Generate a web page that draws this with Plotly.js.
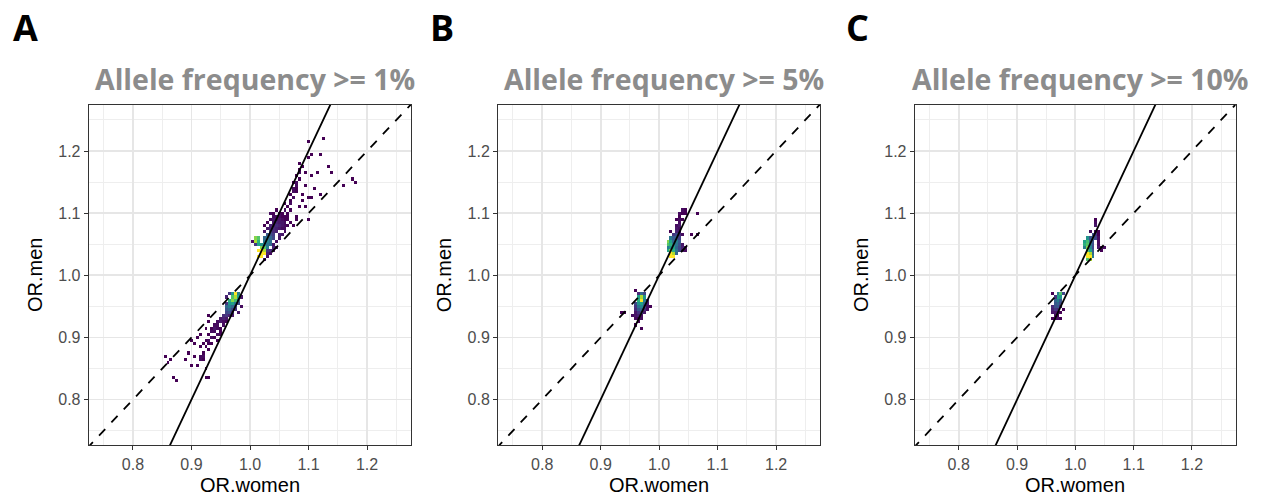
<!DOCTYPE html>
<html>
<head>
<meta charset="utf-8">
<script src="https://cdn.plot.ly/plotly-3.0.1.min.js"></script>
<style>
html,body{margin:0;padding:0;background:#fff;}
#chart{width:1261px;height:497px;}
</style>
</head>
<body>
<div id="chart"></div>
<script>
// ---------------- data ----------------
const panelLetters = ['A', 'B', 'C'];
const panelTitles = ['Allele frequency >= 1%', 'Allele frequency >= 5%', 'Allele frequency >= 10%'];
const xAxisTitle = 'OR.women';
const yAxisTitle = 'OR.men';
const tickValues = [0.8, 0.9, 1.0, 1.1, 1.2];
const tickLabels = ['0.8', '0.9', '1.0', '1.1', '1.2'];
const minorTickValues = [0.75, 0.85, 0.95, 1.05, 1.15, 1.25];
const binWidth = 0.005;

// reference lines: y = slope * x + intercept
const refSlopes = [1, 2];
const refIntercepts = [0, -1];

// Panel A (allele frequency >= 1%) : bin centres and counts
const aWomen = [
  1.015,1.020,1.020,1.025,1.015,1.020,1.025,1.020,1.025,1.010,
  1.010,1.015,1.015,1.015,1.020,1.030,1.030,1.035,1.030,1.035,
  1.035,1.030,1.025,1.025,1.025,1.030,1.035,1.040,1.040,1.035,
  1.040,1.045,1.040,1.045,1.035,1.030,1.025,1.035,1.040,1.045,
  1.050,1.055,1.040,1.045,1.050,1.055,1.035,1.040,1.045,1.050,
  1.040,1.045,1.050,1.035,1.040,1.050,1.055,1.045,1.050,1.055,
  1.050,1.045,1.040,1.045,1.040,1.035,1.040,1.030,1.035,1.030,
  1.060,1.060,1.065,1.060,1.065,1.070,1.075,1.080,1.025,1.030,
  1.010,1.005,1.030,1.025,1.060,1.065,1.060,1.070,1.070,1.075,
  1.070,1.075,1.080,1.075,1.080,1.080,1.075,1.080,1.085,1.080,
  1.085,1.085,1.090,1.085,1.100,1.105,1.095,1.125,1.120,1.100,
  1.135,1.140,1.115,1.105,1.160,1.180,1.175,1.105,1.100,1.120,
  1.100,1.085,1.080,1.090,1.095,1.110,1.070,1.065,1.090,1.095,
  1.060,1.060,1.065,1.055,1.055,1.060,1.050,1.055,
  0.975,0.975,0.970,0.980,0.970,0.980,0.965,0.970,0.975,0.980,
  0.965,0.970,0.975,0.980,0.960,0.965,0.970,0.975,0.960,0.965,
  0.970,0.975,0.960,0.965,0.970,0.980,0.955,0.960,0.965,0.970,
  0.985,0.985,0.960,0.965,0.960,
  0.950,0.955,0.960,0.945,0.950,0.955,0.960,0.940,0.945,0.955,
  0.935,0.940,0.945,0.950,0.935,0.940,0.950,0.930,0.945,0.950,
  0.935,0.940,0.925,0.930,0.945,0.920,0.930,0.935,0.915,0.925,
  0.930,0.920,0.915,0.920,0.915,0.920,0.905,0.900,0.910,0.915,
  0.925,0.930,0.930,0.890,0.900,0.910,0.925,0.925,0.930,0.870,
  0.875,0.855,0.865,0.860,0.905,0.895
];
const aMen = [
  1.030,1.030,1.035,1.035,1.040,1.040,1.040,1.045,1.045,1.055,
  1.060,1.060,1.055,1.050,1.050,1.045,1.050,1.050,1.055,1.055,
  1.060,1.060,1.050,1.055,1.060,1.065,1.065,1.060,1.065,1.070,
  1.070,1.070,1.075,1.075,1.075,1.075,1.070,1.080,1.080,1.080,
  1.080,1.080,1.085,1.085,1.085,1.085,1.090,1.090,1.090,1.090,
  1.095,1.095,1.095,1.100,1.100,1.100,1.100,1.105,1.065,1.065,
  1.060,1.055,1.050,1.045,1.045,1.040,1.040,1.040,1.035,1.035,
  1.075,1.070,1.080,1.085,1.090,1.085,1.080,1.095,1.025,1.030,
  1.050,1.055,1.085,1.080,1.105,1.110,1.115,1.115,1.120,1.125,
  1.130,1.135,1.135,1.140,1.140,1.145,1.150,1.150,1.155,1.160,
  1.165,1.170,1.175,1.180,1.215,1.195,1.165,1.220,1.195,1.190,
  1.175,1.165,1.165,1.160,1.145,1.150,1.155,1.125,1.125,1.130,
  1.090,1.110,1.090,1.120,1.110,1.140,1.105,1.100,1.130,1.145,
  1.080,1.090,1.095,1.090,1.095,1.095,1.075,1.075,
  0.970,0.965,0.965,0.965,0.970,0.970,0.960,0.960,0.960,0.960,
  0.955,0.955,0.955,0.955,0.950,0.950,0.950,0.950,0.945,0.945,
  0.945,0.945,0.940,0.940,0.940,0.940,0.935,0.935,0.935,0.935,
  0.965,0.950,0.965,0.970,0.955,
  0.930,0.930,0.930,0.925,0.925,0.925,0.925,0.920,0.920,0.920,
  0.915,0.915,0.915,0.915,0.910,0.910,0.910,0.905,0.905,0.905,
  0.900,0.900,0.895,0.895,0.895,0.890,0.890,0.890,0.885,0.885,
  0.880,0.875,0.870,0.870,0.865,0.865,0.890,0.895,0.900,0.905,
  0.915,0.925,0.935,0.865,0.855,0.855,0.850,0.835,0.835,0.835,
  0.830,0.870,0.865,0.860,0.870,0.875
];
const aCount = [
  40,45,42,38,35,40,30,28,25,30,
  28,25,22,20,18,15,14,12,16,13,
  12,14,16,14,12,10,9,8,7,8,
  5,4,5,4,4,3,3,4,3,5,
  4,3,3,4,3,3,2,3,2,3,
  2,2,2,2,1,2,1,1,4,3,
  3,2,3,2,4,5,3,6,2,4,
  2,2,1,2,1,1,1,1,3,2,
  6,2,1,1,2,1,1,2,1,2,
  1,2,1,2,1,2,1,2,1,1,
  2,1,1,1,1,1,1,1,1,1,
  1,1,1,1,1,1,1,1,1,1,
  1,1,1,1,1,1,1,1,1,1,
  2,1,1,2,1,1,3,2,
  45,30,25,20,18,15,22,28,24,12,
  18,20,14,8,12,15,12,8,10,12,
  8,5,8,9,5,3,5,6,4,3,
  3,2,4,6,6,
  3,4,3,2,3,2,1,2,2,2,
  1,3,2,1,2,2,1,1,2,1,
  2,1,1,2,1,1,1,1,1,1,
  1,1,2,2,2,1,1,1,1,1,
  1,1,1,1,1,1,1,1,1,1,
  1,1,1,1,1,1
];

// Panel B (allele frequency >= 5%)
const bWomen = [
  1.020,1.025,1.020,1.025,1.030,1.015,1.020,1.025,1.030,1.035,
  1.040,1.045,1.015,1.020,1.025,1.030,1.035,1.040,1.045,1.015,
  1.020,1.025,1.030,1.035,1.040,1.015,1.020,1.025,1.030,1.035,
  1.020,1.025,1.030,1.035,1.025,1.030,1.035,1.040,1.055,1.065,
  1.030,1.035,1.020,1.030,1.035,1.030,1.035,1.035,1.030,1.035,
  1.040,1.035,1.040,1.035,1.045,1.040,1.065,1.045,
  0.970,0.975,0.965,0.960,0.965,0.970,0.975,0.965,0.970,0.975,
  0.980,0.960,0.965,0.970,0.975,0.980,0.960,0.965,0.970,0.975,
  0.980,0.960,0.965,0.970,0.975,0.980,0.960,0.965,0.970,0.975,
  0.955,0.960,0.965,0.970,0.960,0.965,0.970,0.965,0.960,0.970,
  0.935,0.940,0.985
];
const bMen = [
  1.030,1.030,1.035,1.035,1.035,1.040,1.040,1.040,1.040,1.040,
  1.040,1.040,1.045,1.045,1.045,1.045,1.045,1.045,1.045,1.050,
  1.050,1.050,1.050,1.050,1.050,1.055,1.055,1.055,1.055,1.055,
  1.060,1.060,1.060,1.060,1.065,1.065,1.065,1.065,1.065,1.065,
  1.070,1.070,1.070,1.075,1.075,1.080,1.080,1.085,1.090,1.090,
  1.090,1.095,1.100,1.100,1.100,1.105,1.100,1.105,
  0.970,0.970,0.970,0.975,0.965,0.965,0.965,0.960,0.960,0.960,
  0.960,0.955,0.955,0.955,0.955,0.955,0.950,0.950,0.950,0.950,
  0.950,0.945,0.945,0.945,0.945,0.945,0.940,0.940,0.940,0.940,
  0.935,0.935,0.935,0.935,0.930,0.930,0.930,0.925,0.920,0.915,
  0.940,0.940,0.950
];
const bCount = [
  40,35,45,30,12,20,28,22,14,8,
  3,2,15,18,20,12,8,4,3,25,
  22,16,14,9,3,28,20,12,15,10,
  14,10,11,7,6,8,5,2,1,1,
  4,3,1,3,2,2,3,2,1,2,
  1,1,1,2,1,2,1,1,
  12,8,5,1,20,30,18,22,35,15,
  4,8,18,20,12,3,6,14,16,9,
  2,5,10,12,5,2,3,6,8,3,
  2,3,4,2,2,1,2,1,1,1,
  1,1,1
];

// Panel C (allele frequency >= 10%)
const cWomen = [
  1.020,1.025,1.020,1.025,1.030,1.020,1.025,1.030,1.020,1.025,
  1.030,1.015,1.020,1.025,1.030,1.040,1.045,1.050,1.015,1.020,
  1.025,1.030,1.040,1.015,1.020,1.025,1.030,1.040,1.020,1.025,
  1.030,1.035,1.040,1.030,1.035,1.040,1.025,1.035,1.040,1.035,
  1.035,1.035,1.045,
  0.975,0.970,0.980,0.960,0.970,0.975,0.965,0.965,0.970,0.975,
  0.965,0.970,0.975,0.960,0.965,0.970,0.975,0.960,0.965,0.970,
  0.980,0.960,0.965,0.970,0.975,0.965,0.970,0.960,0.965,0.970,
  0.975
];
const cMen = [
  1.025,1.025,1.030,1.030,1.030,1.035,1.035,1.035,1.040,1.040,
  1.040,1.045,1.045,1.045,1.045,1.045,1.045,1.045,1.050,1.050,
  1.050,1.050,1.050,1.055,1.055,1.055,1.055,1.055,1.060,1.060,
  1.060,1.060,1.060,1.065,1.065,1.065,1.070,1.070,1.070,1.080,
  1.085,1.090,1.040,
  0.970,0.970,0.970,0.970,0.965,0.965,0.965,0.960,0.960,0.960,
  0.955,0.955,0.955,0.950,0.950,0.950,0.950,0.945,0.945,0.945,
  0.945,0.940,0.940,0.940,0.940,0.935,0.935,0.930,0.930,0.930,
  0.930
];
const cCount = [
  25,30,40,45,15,35,30,12,25,20,
  10,15,28,16,8,3,2,2,22,25,
  14,9,2,20,24,12,10,2,18,10,
  12,8,2,9,6,1,2,2,1,3,
  2,1,1,
  25,15,8,1,20,18,6,12,15,10,
  10,12,8,5,9,10,4,4,6,5,
  1,3,3,2,1,2,1,1,2,2,
  1
];

// ---------------- layout constants (pixels) ----------------
const W = 1261, H = 497;
const xRange = [0.725, 1.275];
const yRange = [0.727, 1.274];
const panelLeft = [89, 498.3, 915];
const panelRight = [411, 820, 1235.7];
const plotTop = 105, plotBottom = 445;
const letterX = [11, 428, 844];

const panels = [
  {w: aWomen, m: aMen, c: aCount},
  {w: bWomen, m: bMen, c: bCount},
  {w: cWomen, m: cMen, c: cCount}
];

function toGrid(w, m, c) {
  const origin = 0.70;
  const n = Math.round((1.30 - origin) / binWidth) + 1;
  const z = [];
  for (let j = 0; j < n; j++) z.push(new Array(n).fill(null));
  for (let k = 0; k < w.length; k++) {
    const i = Math.round((w[k] - origin) / binWidth);
    const j = Math.round((m[k] - origin) / binWidth);
    z[j][i] = c[k];
  }
  return {z: z, x0: origin, y0: origin};
}

const traces = [];
const layout = {
  width: W, height: H,
  margin: {l: 0, r: 0, t: 0, b: 0},
  paper_bgcolor: '#ffffff',
  plot_bgcolor: '#ffffff',
  showlegend: false,
  annotations: []
};

const axisCommon = {
  tickvals: tickValues,
  ticktext: tickLabels,
  ticks: 'outside',
  ticklen: 4,
  tickwidth: 1,
  tickcolor: '#333333',
  showline: true,
  mirror: true,
  linecolor: '#333333',
  linewidth: 1.3,
  showgrid: true,
  gridcolor: '#e6e6e6',
  gridwidth: 1.7,
  zeroline: false,
  fixedrange: true,
  tickfont: {family: 'Liberation Sans, Arial, sans-serif', size: 16, color: '#4d4d4d'},
  minor: {tickvals: minorTickValues, showgrid: true, gridcolor: '#eeeeee', gridwidth: 1, ticks: ''}
};

const yDom = [1 - plotBottom / H, 1 - plotTop / H];

panels.forEach((p, idx) => {
  const sx = idx === 0 ? '' : String(idx + 1);
  const xa = 'x' + sx, ya = 'y' + sx;
  const g = toGrid(p.w, p.m, p.c);
  traces.push({
    type: 'heatmap', xaxis: xa, yaxis: ya,
    z: g.z, x0: g.x0, dx: binWidth, y0: g.y0, dy: binWidth,
    colorscale: 'Viridis', zmin: 1, zmax: 34, showscale: false,
    hoverinfo: 'skip', zsmooth: false
  });
  refSlopes.forEach((s, li) => {
    const xs = [0.70, 1.30];
    traces.push({
      type: 'scatter', mode: 'lines', xaxis: xa, yaxis: ya,
      x: xs, y: xs.map(v => s * v + refIntercepts[li]),
      line: {color: '#000000', width: 1.8, dash: li === 0 ? 'dash' : 'solid'},
      hoverinfo: 'skip'
    });
  });
  layout['xaxis' + sx] = Object.assign({}, axisCommon, {
    domain: [panelLeft[idx] / W, panelRight[idx] / W],
    range: xRange, anchor: ya
  });
  layout['yaxis' + sx] = Object.assign({}, axisCommon, {
    domain: yDom, range: yRange, anchor: xa
  });
  const cx = (panelLeft[idx] + panelRight[idx]) / 2;
  // panel letter
  layout.annotations.push({
    text: '<b>' + panelLetters[idx] + '</b>', xref: 'paper', yref: 'paper',
    x: letterX[idx] / W, y: 1 - 27 / H, xanchor: 'left', yanchor: 'middle',
    showarrow: false, font: {family: 'Open Sans, sans-serif', size: 36, color: '#000000'}
  });
  // panel title
  layout.annotations.push({
    text: '<b>' + panelTitles[idx].replace('>', '&gt;') + '</b>', xref: 'paper', yref: 'paper',
    x: (cx + 5) / W, y: 1 - 79 / H, xanchor: 'center', yanchor: 'middle',
    showarrow: false, font: {family: 'Open Sans, sans-serif', size: 28.5, color: '#8c8c8c'}
  });
  // x axis title
  layout.annotations.push({
    text: xAxisTitle, xref: 'paper', yref: 'paper',
    x: cx / W, y: 1 - 485 / H, xanchor: 'center', yanchor: 'middle',
    showarrow: false, font: {family: 'Liberation Sans, Arial, sans-serif', size: 20, color: '#000000'}
  });
  // y axis title
  layout.annotations.push({
    text: yAxisTitle, xref: 'paper', yref: 'paper', textangle: -90,
    x: (panelLeft[idx] - 54) / W, y: 1 - 275 / H, xanchor: 'center', yanchor: 'middle',
    showarrow: false, font: {family: 'Liberation Sans, Arial, sans-serif', size: 20, color: '#000000'}
  });
});

Plotly.newPlot('chart', traces, layout, {displayModeBar: false, staticPlot: true});
</script>
</body>
</html>
